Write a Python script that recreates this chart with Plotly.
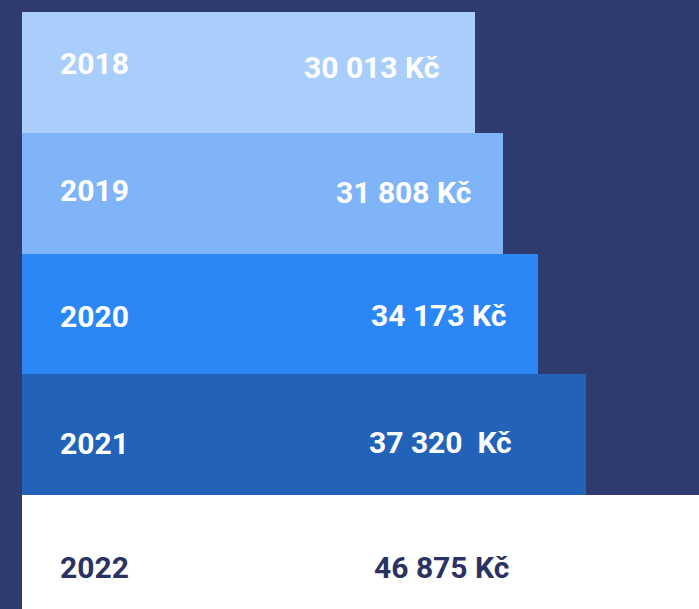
from plotly import graph_objects as go

years = ['2018', '2019', '2020', '2021', '2022']
salaries = [30013, 31808, 34173, 37320, 46875]
value_labels = ['30 013 Kč', '31 808 Kč', '34 173 Kč', '37 320  Kč', '46 875 Kč']

bar_colors = ['#a9cefb', '#80b4f8', '#2b87f6', '#2263b9', '#ffffff']
text_colors = ['#ffffff', '#ffffff', '#ffffff', '#ffffff', '#2b3263']
bg = '#2f3a6f'

# label placement tweaks, the source graphic is not perfectly regular
year_shift = [9, 3, -2, -9, -12]
value_shift = [5, 1, -1, -8, -12]
value_right_px = [441, 473, 508, 514, 511]

rows = list(range(len(years)))
left, plot_w = 22, 677

fig = go.Figure()
fig.add_trace(go.Bar(
    x=salaries, y=rows, orientation='h',
    marker=dict(color=bar_colors, line=dict(width=0)),
    width=1, hoverinfo='skip',
))

font = dict(family='Roboto', size=30, weight=700)
for i in rows:
    fig.add_annotation(x=(94 - left) / plot_w, xref='paper', y=i, yref='y', text=years[i],
                       showarrow=False, xanchor='center', yanchor='middle', yshift=year_shift[i],
                       font=dict(font, color=text_colors[i]))
    fig.add_annotation(x=(value_right_px[i] - left) / plot_w, xref='paper', y=i, yref='y',
                       text=value_labels[i], showarrow=False, xanchor='right', yanchor='middle',
                       yshift=value_shift[i], font=dict(font, color=text_colors[i]))

fig.update_layout(
    width=699, height=609,
    margin=dict(l=left, r=0, t=12, b=0),
    paper_bgcolor=bg, plot_bgcolor=bg,
    showlegend=False, bargap=0,
    xaxis=dict(range=[0, 44805], visible=False, fixedrange=True),
    yaxis=dict(range=[4.442, -0.5], visible=False, fixedrange=True),
)

fig.write_html("out.html", config={'displayModeBar': False},
               post_script="document.body.style.margin='0';document.body.style.overflow='hidden';")
